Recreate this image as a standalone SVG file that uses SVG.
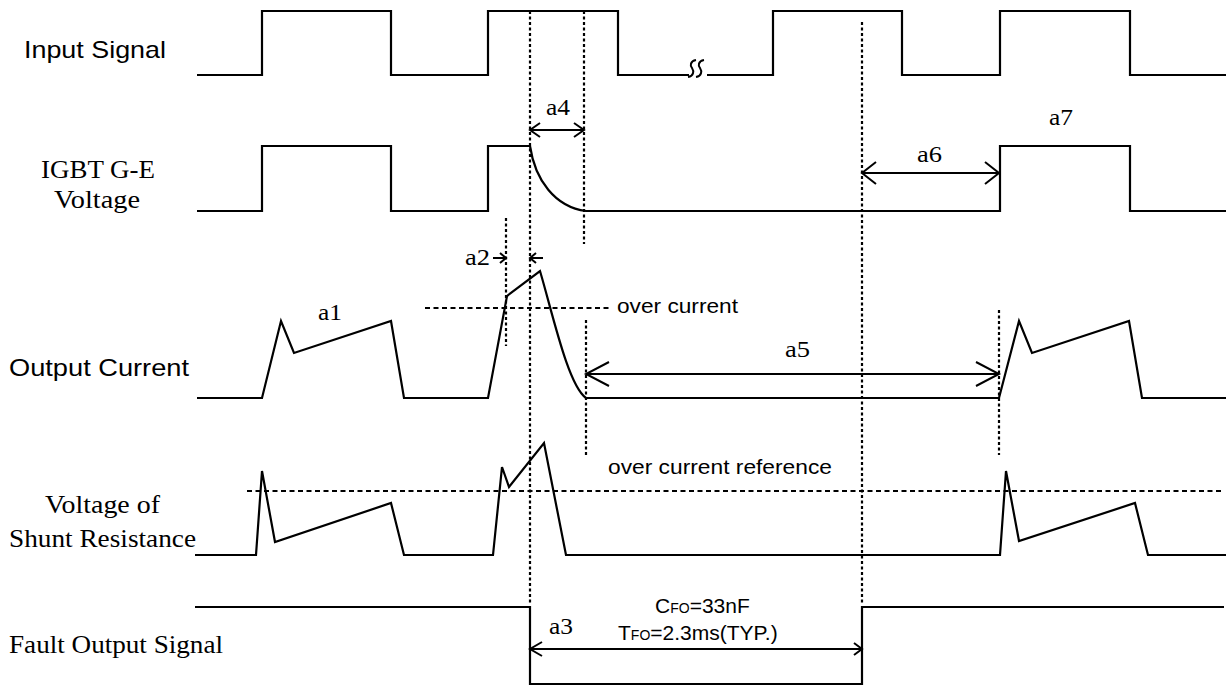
<svg xmlns="http://www.w3.org/2000/svg" width="1226" height="686" viewBox="0 0 1226 686">
<style>
.w{fill:none;stroke:#000;stroke-width:2.2;stroke-linejoin:miter}
.d{fill:none;stroke:#000;stroke-width:2.2;stroke-dasharray:3 2.5}
.h{fill:none;stroke:#000;stroke-width:2;stroke-dasharray:5 3.5}
.a{fill:none;stroke:#000;stroke-width:2}
.s{font-family:"Liberation Sans",Arial,sans-serif;fill:#000}
.t{font-family:"Liberation Serif","Times New Roman",serif;fill:#000}
</style>
<rect width="1226" height="686" fill="#fff"/>
<g id="labels">
<text class="s" x="24" y="58" font-size="24" textLength="142" lengthAdjust="spacingAndGlyphs">Input Signal</text>
<text class="t" x="41" y="178" font-size="25" textLength="114" lengthAdjust="spacingAndGlyphs">IGBT G-E</text>
<text class="t" x="54" y="208" font-size="25" textLength="86" lengthAdjust="spacingAndGlyphs">Voltage</text>
<text class="s" x="9" y="376" font-size="24" textLength="180" lengthAdjust="spacingAndGlyphs">Output Current</text>
<text class="t" x="45" y="513" font-size="25" textLength="115" lengthAdjust="spacingAndGlyphs">Voltage of</text>
<text class="t" x="9" y="547" font-size="25" textLength="187" lengthAdjust="spacingAndGlyphs">Shunt Resistance</text>
<text class="t" x="9" y="653" font-size="25" textLength="214" lengthAdjust="spacingAndGlyphs">Fault Output Signal</text>
</g>
<g id="input-signal">
<path class="w" d="M197,75 H262 V11 H391 V75 H488 V11 H618 V75 H689"/>
<path class="w" d="M707,75 H773 V11 H902 V75 H1000 V11 H1130 V75 H1226"/>
<path class="a" stroke-width="1.5" d="M696,60 C690,61 690,66 692,68 C694,71 694,76 688,77"/>
<path class="a" stroke-width="1.5" d="M704,60 C698,61 698,66 700,68 C702,71 702,76 696,77"/>
</g>
<g id="igbt-ge">
<path class="w" d="M197,211 H262 V146 H391 V211 H488 V146 H530 C535,180 555,207 586,211 H1000 V146 H1130 V211 H1226"/>
</g>
<g id="output-current">
<path class="w" d="M197,398 H262 L281,321 L294,353 L391,321 L404,398 H488 L507,296 L540,271 C553,315 568,385 586,398 H999 L1019,321 L1032,353 L1129,321 L1142,398 H1226"/>
<path class="h" d="M425,308 H610"/>
<text class="s" x="617" y="313" font-size="21" textLength="121" lengthAdjust="spacingAndGlyphs">over current</text>
</g>
<g id="shunt-voltage">
<path class="w" d="M195,555 H256 L262,471 L275,542 L391,503 L404,555 H493 L502,467 L509,487 L544,443 L566,555 H1000 L1006,471 L1019,541 L1135,503 L1148,555 H1226"/>
<path class="h" d="M247,491 H1224"/>
<text class="s" x="608" y="474" font-size="21" textLength="224" lengthAdjust="spacingAndGlyphs">over current reference</text>
</g>
<g id="fault-output">
<path class="w" d="M195,607 H530 V684 H862 V607 H1224"/>
<text class="s" x="655" y="613" font-size="21">C<tspan font-size="14">FO</tspan>=33nF</text>
<text class="s" x="618" y="640" font-size="21">T<tspan font-size="14">FO</tspan>=2.3ms(TYP.)</text>
</g>
<g id="connectors">
<path class="d" d="M530,11 V603"/>
<path class="d" d="M584,11 V244"/>
<path class="d" d="M586,320 V455"/>
<path class="d" d="M506,218 V346"/>
<path class="d" d="M862,22 V603"/>
<path class="d" d="M999,310 V455"/>
<path class="a" d="M530,130 H584 M540,123 L530,130 L540,137 M574,123 L584,130 L574,137"/>
<path class="a" d="M493,258 H506 M500,253 L506,258 L500,263 M543,258 H530 M536,253 L530,258 L536,263"/>
<path class="a" d="M586,374 H999 M609,362 L586,374 L609,386 M976,362 L999,374 L976,386"/>
<path class="a" d="M862,173 H999 M876,162 L862,173 L876,184 M985,162 L999,173 L985,184"/>
<path class="a" d="M530,649 H862 M542,642 L530,649 L542,656 M854,643 L862,649 L854,655"/>
<text class="t" x="546" y="115" font-size="23" textLength="24" lengthAdjust="spacingAndGlyphs">a4</text>
<text class="t" x="318" y="320" font-size="23" textLength="24" lengthAdjust="spacingAndGlyphs">a1</text>
<text class="t" x="465" y="265" font-size="23" textLength="25" lengthAdjust="spacingAndGlyphs">a2</text>
<text class="t" x="549" y="634" font-size="23" textLength="24" lengthAdjust="spacingAndGlyphs">a3</text>
<text class="t" x="785" y="357" font-size="23" textLength="25" lengthAdjust="spacingAndGlyphs">a5</text>
<text class="t" x="917" y="162" font-size="23" textLength="25" lengthAdjust="spacingAndGlyphs">a6</text>
<text class="t" x="1049" y="125" font-size="23" textLength="24" lengthAdjust="spacingAndGlyphs">a7</text>
</g>
</svg>
